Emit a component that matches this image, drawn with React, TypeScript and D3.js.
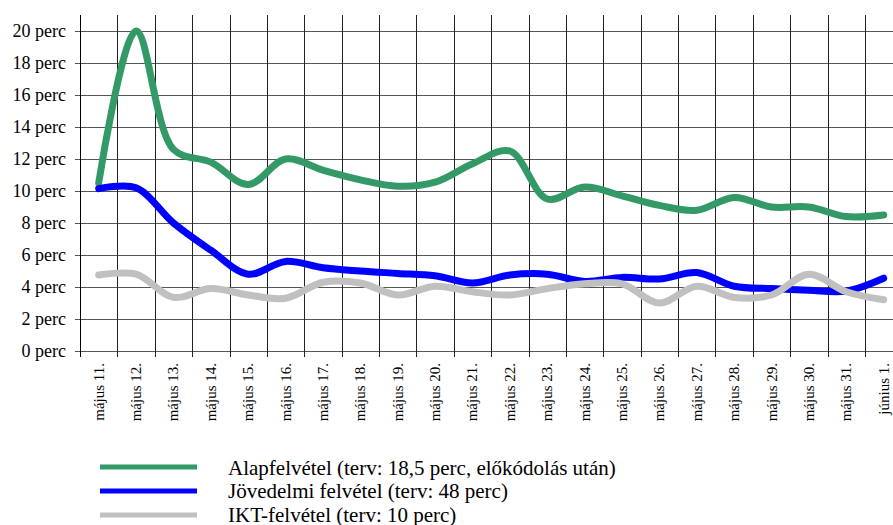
import React from "react";
import * as d3 from "d3";

const categories = [
  "május 11.", "május 12.", "május 13.", "május 14.", "május 15.", "május 16.",
  "május 17.", "május 18.", "május 19.", "május 20.", "május 21.", "május 22.",
  "május 23.", "május 24.", "május 25.", "május 26.", "május 27.", "május 28.",
  "május 29.", "május 30.", "május 31.", "június 1.",
];

const alapValues = [10.5, 20.0, 12.6, 11.8, 10.4, 12.0, 11.3, 10.7, 10.3, 10.55, 11.7, 12.5, 9.5, 10.25, 9.7, 9.1, 8.8, 9.6, 9.0, 9.0, 8.4, 8.5];
const jovedelmiValues = [10.15, 10.2, 8.0, 6.3, 4.8, 5.6, 5.2, 5.0, 4.85, 4.7, 4.25, 4.75, 4.8, 4.35, 4.6, 4.5, 4.9, 4.05, 3.9, 3.8, 3.75, 4.55];
const iktValues = [4.75, 4.8, 3.35, 3.9, 3.5, 3.3, 4.3, 4.25, 3.5, 4.05, 3.7, 3.5, 3.9, 4.2, 4.2, 3.0, 4.05, 3.35, 3.5, 4.8, 3.7, 3.2];

const yTicks = [0, 2, 4, 6, 8, 10, 12, 14, 16, 18, 20];

const seriesNames = [
  "Alapfelvétel (terv: 18,5 perc, előkódolás után)",
  "Jövedelmi felvétel (terv: 48 perc)",
  "IKT-felvétel (terv: 10 perc)",
];
const seriesColors = ["#339966", "#0000ff", "#c0c0c0"];

const W = 893;
const H = 525;
const left = 80;
const band = 37.38;
const top = 31;
const bottom = 351;
const FONT = "'Liberation Serif', 'Times New Roman', serif";

export default function App() {
  const x = d3.scaleBand<string>().domain(categories).range([left, left + band * categories.length]).padding(0);
  const y = d3.scaleLinear().domain([0, 20]).range([bottom, top]);
  const cx = (c: string) => (x(c) as number) + x.bandwidth() / 2;

  const line = d3
    .line<number>()
    .x((_, i) => cx(categories[i]))
    .y((d) => y(d))
    .curve(d3.curveCatmullRom.alpha(0.5));

  const series = [alapValues, jovedelmiValues, iktValues];
  const boundaries = d3.range(categories.length + 1).map((i) => left + i * x.bandwidth());

  return (
    <svg width={W} height={H} style={{ position: "absolute", left: 0, top: 0, background: "#fff", fontFamily: FONT }}>
      {/* horizontal grid */}
      {yTicks.map((t) => (
        <line key={"h" + t} x1={left - 5} x2={W} y1={Math.round(y(t)) + 0.5} y2={Math.round(y(t)) + 0.5} stroke="#555" strokeWidth={1} />
      ))}
      {/* vertical grid */}
      {boundaries.map((bx, i) => (
        <line key={"v" + i} x1={Math.round(bx) + 0.5} x2={Math.round(bx) + 0.5} y1={15} y2={bottom + 6} stroke={i === 0 ? "#000" : "#222"} strokeWidth={1} />
      ))}
      {/* y labels */}
      {yTicks.map((t) => (
        <text key={"yl" + t} x={66} y={y(t) + 6} textAnchor="end" fontSize={18} fill="#000">
          {t} perc
        </text>
      ))}
      {/* x labels */}
      {categories.map((c) => (
        <text
          key={"xl" + c}
          transform={`translate(${cx(c) + 5},${bottom + 12}) rotate(-90)`}
          textAnchor="end"
          fontSize={15}
          fill="#000"
        >
          {c}
        </text>
      ))}
      {/* series */}
      {series.map((vals, i) => (
        <path key={"s" + i} d={line(vals) || ""} fill="none" stroke={seriesColors[i]} strokeWidth={7} strokeLinejoin="round" strokeLinecap="round" />
      ))}
      {/* legend */}
      {seriesNames.map((n, i) => (
        <g key={"lg" + i}>
          <line x1={100} x2={197} y1={467 + i * 24} y2={467 + i * 24} stroke={seriesColors[i]} strokeWidth={5} />
          <text x={228} y={474.5 + i * 23.5} fontSize={21} fill="#000">
            {n}
          </text>
        </g>
      ))}
    </svg>
  );
}
